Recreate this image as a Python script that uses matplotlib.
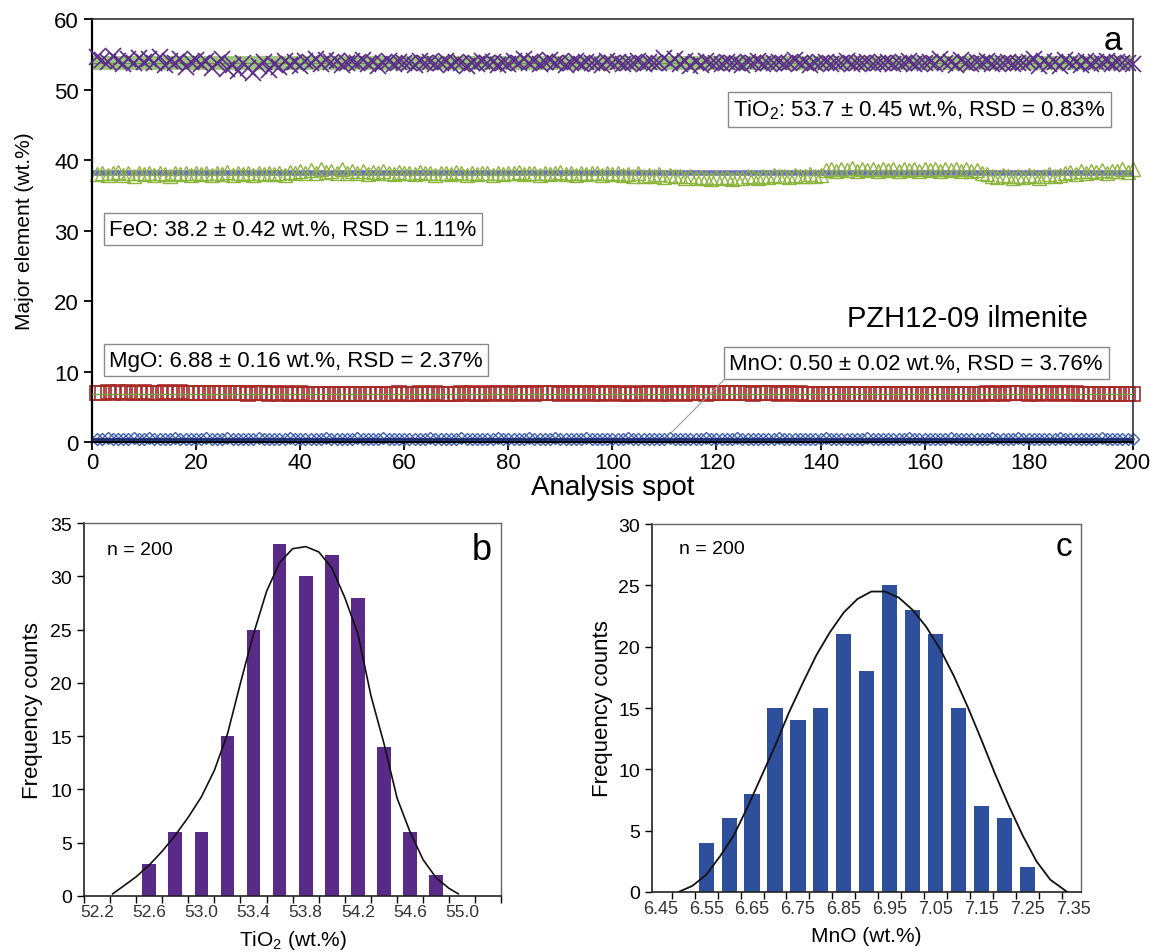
import numpy as np
import matplotlib
matplotlib.use("Agg")
from matplotlib import pyplot as plt

plt.rcParams["font.family"] = ["Liberation Sans", "DejaVu Sans"]
plt.rcParams["mathtext.fontset"] = "custom"
plt.rcParams["mathtext.rm"] = "Liberation Sans"

# ---- panel a: spot-by-spot major elements (wt.%) ----
TIO2 = [
    54.6, 54.2, 53.9, 54.8, 54.1, 53.6, 54.4, 53.8, 54.5, 53.9, 54.3, 53.7, 54.6, 53.5, 54.0, 53.8, 54.4, 53.2, 53.9, 54.2,
    53.6, 54.1, 53.0, 53.8, 54.3, 52.9, 53.5, 52.6, 53.7, 53.1, 52.4, 53.4, 53.9, 52.8, 53.6, 53.2, 54.0, 53.5, 53.9, 53.3,
    54.1, 53.8, 54.4, 53.6, 54.2, 53.9, 54.0, 53.5, 53.8, 54.1, 53.7, 54.2, 53.6, 53.9, 53.4, 53.8, 54.0, 53.6, 53.9, 53.7,
    53.8, 53.5, 54.0, 53.7, 53.9, 53.6, 53.8, 54.1, 53.5, 53.9, 53.7, 53.4, 53.8, 53.6, 54.0, 53.7, 53.9, 53.5, 53.8, 53.6,
    54.0, 53.7, 54.3, 53.8, 54.1, 53.6, 53.9, 54.2, 53.7, 53.9, 53.5, 53.8, 54.0, 53.6, 53.9, 53.7, 53.8, 53.5, 54.0, 53.7,
    53.9, 53.6, 53.8, 53.7, 54.0, 53.6, 53.9, 53.8, 53.7, 54.5, 53.8, 54.3, 53.6, 54.0, 53.3, 53.9, 53.5, 54.1, 53.7, 53.8,
    53.6, 53.9, 53.7, 53.8, 53.5, 53.9, 53.7, 54.0, 53.6, 53.8, 53.7, 53.9, 53.6, 53.8, 54.2, 53.7, 53.9, 53.5, 53.8, 53.7,
    53.9, 53.6, 53.8, 53.7, 54.0, 53.6, 53.8, 53.7, 53.9, 53.6, 53.8, 53.7, 53.9, 53.6, 53.8, 53.7, 54.0, 53.6, 53.8, 53.7,
    53.9, 53.6, 54.3, 53.7, 53.9, 53.5, 54.2, 53.8, 53.6, 53.9, 53.7, 54.0, 53.6, 53.8, 53.7, 53.9, 53.6, 53.8, 53.7, 53.9,
    54.4, 53.3, 54.1, 53.6, 53.9, 53.4, 54.2, 53.7, 53.9, 53.5, 54.1, 53.6, 53.9, 53.7, 54.0, 53.6, 53.9, 53.7, 53.8, 53.6,
]
FEO = [
    38.0, 38.2, 37.9, 38.1, 38.3, 37.9, 38.1, 37.8, 38.2, 38.0, 38.1, 37.9, 38.2, 38.0, 37.8, 38.1, 38.0, 38.2, 37.9, 38.1,
    38.0, 38.2, 37.9, 38.1, 38.0, 38.3, 37.9, 38.1, 38.0, 38.2, 37.9, 38.1, 38.0, 38.2, 38.0, 38.1, 37.9, 38.3, 38.1, 38.4,
    38.2, 38.6, 38.1, 38.7, 38.3, 38.5, 38.2, 38.8, 38.1, 38.4, 38.2, 38.5, 38.0, 38.3, 38.1, 38.4, 38.2, 38.0, 38.3, 38.1,
    38.2, 38.0, 38.3, 38.1, 38.2, 37.9, 38.1, 38.2, 38.0, 38.3, 38.1, 37.9, 38.2, 38.0, 38.1, 38.2, 37.9, 38.1, 38.0, 38.2,
    38.1, 38.3, 38.0, 38.2, 38.1, 37.9, 38.2, 38.0, 38.1, 38.3, 38.0, 38.2, 37.9, 38.1, 38.0, 38.2, 38.1, 37.9, 38.2, 38.0,
    38.1, 37.9, 38.0, 37.8, 38.1, 37.7, 37.9, 37.8, 38.0, 37.6, 37.9, 37.7, 37.8, 37.5, 37.7, 37.4, 37.6, 37.5, 37.3, 37.6,
    37.4, 37.6, 37.3, 37.5, 37.4, 37.7, 37.6, 37.5, 37.8, 37.6, 37.9, 37.7, 37.8, 37.6, 37.9, 37.7, 37.8, 38.0, 37.7, 37.9,
    38.6, 38.8, 38.5, 38.7, 38.6, 38.9, 38.5, 38.7, 38.6, 38.8, 38.5, 38.7, 38.6, 38.8, 38.5, 38.7, 38.6, 38.8, 38.5, 38.7,
    38.6, 38.8, 38.5, 38.7, 38.6, 38.8, 38.5, 38.7, 38.4, 38.6, 38.2, 38.0, 37.8, 37.6, 37.9, 37.7, 37.5, 37.8, 37.6, 37.9,
    37.7, 37.5, 37.8, 38.0, 37.7, 37.9, 38.1, 38.3, 38.0, 38.4, 38.2, 38.5, 38.3, 38.6, 38.2, 38.5, 38.4, 38.7, 38.3, 38.8,
]
MGO = [
    7.02, 6.95, 7.05, 6.98, 7.08, 6.96, 7.04, 7.00, 6.94, 7.06, 6.99, 7.03, 6.97, 7.07, 7.01, 6.96, 7.05, 6.98, 7.02, 6.95,
    6.98, 6.92, 7.00, 6.94, 6.97, 6.90, 6.99, 6.93, 6.96, 6.88, 6.95, 6.91, 6.97, 6.89, 6.94, 6.86, 6.93, 6.88, 6.84, 6.90,
    6.85, 6.81, 6.88, 6.83, 6.79, 6.86, 6.82, 6.78, 6.84, 6.80, 6.87, 6.76, 6.83, 6.79, 6.85, 6.81, 6.88, 6.84, 6.90, 6.86,
    6.89, 6.85, 6.92, 6.87, 6.83, 6.90, 6.86, 6.81, 6.88, 6.84, 6.91, 6.87, 6.93, 6.89, 6.86, 6.92, 6.88, 6.95, 6.90, 6.87,
    6.93, 6.89, 6.96, 6.91, 6.88, 6.94, 6.90, 6.97, 6.92, 6.89, 6.95, 6.91, 6.87, 6.93, 6.90, 6.86, 6.92, 6.88, 6.94, 6.90,
    6.87, 6.93, 6.89, 6.85, 6.91, 6.88, 6.94, 6.90, 6.86, 6.92, 6.89, 6.95, 6.91, 6.88, 6.93, 6.97, 6.92, 6.89, 6.95, 6.91,
    6.94, 6.90, 6.96, 6.92, 6.98, 6.93, 6.89, 6.95, 6.91, 6.97, 6.93, 6.88, 6.94, 6.90, 6.86, 6.92, 6.87, 6.83, 6.89, 6.85,
    6.81, 6.87, 6.83, 6.79, 6.85, 6.81, 6.88, 6.84, 6.80, 6.86, 6.82, 6.78, 6.84, 6.80, 6.86, 6.82, 6.79, 6.85, 6.81, 6.87,
    6.83, 6.79, 6.85, 6.81, 6.77, 6.83, 6.80, 6.86, 6.82, 6.88, 6.84, 6.90, 6.86, 6.92, 6.88, 6.94, 6.90, 6.96, 6.91, 6.87,
    6.93, 6.89, 6.95, 6.91, 6.87, 6.93, 6.90, 6.85, 6.91, 6.87, 6.83, 6.89, 6.85, 6.81, 6.87, 6.84, 6.80, 6.86, 6.82, 6.88,
]
MNO = [
    0.51, 0.49, 0.52, 0.50, 0.48, 0.51, 0.50, 0.53, 0.49, 0.50, 0.52, 0.48, 0.51, 0.49, 0.50, 0.52, 0.47, 0.50, 0.51, 0.49,
    0.50, 0.52, 0.48, 0.51, 0.49, 0.53, 0.50, 0.48, 0.51, 0.50, 0.49, 0.52, 0.50, 0.48, 0.51, 0.49, 0.50, 0.52, 0.49, 0.51,
    0.48, 0.50, 0.51, 0.49, 0.52, 0.50, 0.48, 0.51, 0.49, 0.50, 0.53, 0.49, 0.51, 0.50, 0.48, 0.52, 0.50, 0.49, 0.51, 0.50,
    0.49, 0.51, 0.50, 0.48, 0.52, 0.49, 0.51, 0.50, 0.47, 0.50, 0.52, 0.49, 0.51, 0.50, 0.48, 0.51, 0.49, 0.52, 0.50, 0.49,
    0.51, 0.50, 0.48, 0.52, 0.49, 0.51, 0.50, 0.49, 0.53, 0.50, 0.48, 0.51, 0.49, 0.50, 0.52, 0.48, 0.51, 0.50, 0.49, 0.51,
    0.50, 0.48, 0.52, 0.49, 0.51, 0.50, 0.49, 0.51, 0.48, 0.50, 0.52, 0.49, 0.51, 0.50, 0.48, 0.51, 0.49, 0.53, 0.50, 0.49,
    0.51, 0.50, 0.48, 0.52, 0.49, 0.51, 0.50, 0.48, 0.51, 0.49, 0.50, 0.52, 0.48, 0.51, 0.50, 0.49, 0.51, 0.50, 0.47, 0.50,
    0.52, 0.49, 0.51, 0.50, 0.48, 0.51, 0.49, 0.50, 0.52, 0.48, 0.51, 0.50, 0.49, 0.51, 0.50, 0.48, 0.52, 0.49, 0.51, 0.50,
    0.49, 0.51, 0.48, 0.50, 0.52, 0.49, 0.51, 0.50, 0.48, 0.51, 0.49, 0.50, 0.53, 0.49, 0.51, 0.50, 0.48, 0.52, 0.49, 0.51,
    0.50, 0.49, 0.51, 0.48, 0.50, 0.52, 0.49, 0.51, 0.50, 0.48, 0.51, 0.49, 0.50, 0.52, 0.48, 0.51, 0.50, 0.49, 0.51, 0.50,
]
MEANS = {"TiO2": 53.7, "FeO": 38.2, "MgO": 6.88, "MnO": 0.50}

# ---- panel b: TiO2 histogram ----
TIO2_BINS = [52.6, 52.8, 53.0, 53.2, 53.4, 53.6, 53.8, 54.0, 54.2, 54.4, 54.6, 54.8]
TIO2_COUNTS = [3, 6, 6, 15, 25, 33, 30, 32, 28, 14, 6, 2]
TIO2_CURVE_X = [52.32, 52.4, 52.5, 52.6, 52.7, 52.8, 52.9, 53.0, 53.1, 53.2, 53.3, 53.4, 53.5, 53.6,
                53.7, 53.8, 53.9, 54.0, 54.1, 54.2, 54.3, 54.4, 54.5, 54.6, 54.7, 54.8, 54.9, 54.97]
TIO2_CURVE_Y = [0.2, 0.9, 1.8, 2.9, 4.2, 5.7, 7.4, 9.3, 11.8, 15.2, 20.0, 24.6, 28.6, 31.3,
                32.6, 32.8, 32.3, 30.8, 28.0, 24.6, 18.8, 14.3, 9.2, 6.0, 3.4, 1.7, 0.7, 0.2]
TIO2_LABELS = ["52.2", "52.6", "53.0", "53.4", "53.8", "54.2", "54.6", "55.0"]

# ---- panel c: MnO histogram ----
MNO_BINS = [6.55, 6.60, 6.65, 6.70, 6.75, 6.80, 6.85, 6.90, 6.95, 7.00, 7.05, 7.10, 7.15, 7.20, 7.25]
MNO_COUNTS = [4, 6, 8, 15, 14, 15, 21, 18, 25, 23, 21, 15, 7, 6, 2]
MNO_CURVE_X = [6.49, 6.52, 6.55, 6.58, 6.61, 6.64, 6.67, 6.70, 6.73, 6.76, 6.79, 6.82, 6.85, 6.88, 6.91,
               6.94, 6.97, 7.00, 7.03, 7.06, 7.09, 7.12, 7.15, 7.18, 7.21, 7.24, 7.27, 7.30, 7.337]
MNO_CURVE_Y = [0.0, 0.5, 1.4, 2.9, 4.6, 6.9, 9.4, 11.9, 14.6, 17.0, 19.3, 21.2, 22.8, 23.9, 24.5,
               24.5, 24.0, 23.0, 21.6, 19.8, 17.6, 15.1, 12.4, 9.6, 7.0, 4.6, 2.5, 1.0, 0.0]
MNO_LABELS = ["6.45", "6.55", "6.65", "6.75", "6.85", "6.95", "7.05", "7.15", "7.25", "7.35"]


def style_hist_axes(ax):
    for side in ["top", "right"]:
        ax.spines[side].set_color("#666666")
        ax.spines[side].set_linewidth(1.0)
    for side in ["left", "bottom"]:
        ax.spines[side].set_color("#222222")
        ax.spines[side].set_linewidth(1.2)
    ax.tick_params(axis="y", direction="out", length=5, width=1, labelsize=14, right=False)
    ax.tick_params(axis="x", which="major", length=0, labelsize=12.5, pad=6, labelcolor="#333333")
    ax.tick_params(axis="x", which="minor", direction="out", length=5, width=1, top=False)


def main():
    fig = plt.figure(figsize=(11.5, 9.53), dpi=100)

    # panel a
    ax = fig.add_axes([0.080, 0.535, 0.905, 0.444])
    spots = np.arange(1, len(TIO2) + 1)
    ax.plot([0, 200], [MEANS["TiO2"]] * 2, color="#9cc77c", lw=10, solid_capstyle="butt", zorder=1)
    ax.plot([0, 200], [MEANS["TiO2"]] * 2, color="#6f8f5a", lw=0.8, zorder=1)
    ax.plot(spots, TIO2, ls="none", marker="x", ms=11, mew=1.2, color="#5b2a8c", zorder=3, clip_on=False)

    ax.plot([0, 200], [MEANS["FeO"]] * 2, color="#6c6cc4", lw=4, zorder=1)
    ax.plot(spots, FEO, ls="none", marker="^", ms=10, mew=1.0, mfc="none", mec="#8bb53c", zorder=2, clip_on=False)

    ax.plot(spots, MGO, ls="none", marker="s", ms=10, mew=1.2, mfc="none", mec="#a82a26", zorder=2, clip_on=False)
    ax.plot([0, 200], [MEANS["MgO"]] * 2, color="#6fa24a", lw=1.0, zorder=3)

    ax.plot(spots, MNO, ls="none", marker="D", ms=6.5, mew=1.0, mfc="none", mec="#3d5eb0", zorder=2, clip_on=False)
    ax.plot([0, 200], [MEANS["MnO"]] * 2, color="#1c2a6e", lw=2, zorder=3)

    ax.set_xlim(0, 200)
    ax.set_ylim(0, 60)
    ax.set_xticks(np.arange(0, 201, 20))
    ax.set_yticks(np.arange(0, 61, 10))
    ax.tick_params(direction="out", length=6, width=1.3, labelsize=16)
    ax.tick_params(axis="x", pad=1)
    for side in ["left", "bottom"]:
        ax.spines[side].set_linewidth(1.6)
    for side in ["top", "right"]:
        ax.spines[side].set_color("#333333")
        ax.spines[side].set_linewidth(1.2)
    ax.set_xlabel("Analysis spot", fontsize=20, labelpad=1)
    ax.set_ylabel("Major element (wt.%)", fontsize=15, labelpad=14)

    box = dict(boxstyle="square,pad=0.25", fc="white", ec="#8a8a8a", lw=1.0)
    ax.text(123.2, 47.2, "TiO$_\\mathregular{2}$: 53.7 ± 0.45 wt.%, RSD = 0.83%",
            fontsize=16, ha="left", va="center", bbox=box, zorder=5)
    ax.text(3.3, 30.2, "FeO: 38.2 ± 0.42 wt.%, RSD = 1.11%",
            fontsize=16, ha="left", va="center", bbox=box, zorder=5)
    ax.text(3.3, 11.6, "MgO: 6.88 ± 0.16 wt.%, RSD = 2.37%",
            fontsize=16, ha="left", va="center", bbox=box, zorder=5)
    ax.text(122.5, 11.2, "MnO: 0.50 ± 0.02 wt.%, RSD = 3.76%",
            fontsize=16, ha="left", va="center", bbox=box, zorder=5)
    ax.plot([111.4, 121.4], [1.4, 8.8], color="#9a9a9a", lw=0.8, zorder=4)
    ax.text(191.4, 17.6, "PZH12-09 ilmenite", fontsize=21, ha="right", va="center")
    ax.text(197.9, 57.0, "a", fontsize=24, ha="right", va="center")

    # panel b
    axb = fig.add_axes([0.073, 0.0588, 0.363, 0.3912])
    axb.bar(TIO2_BINS, TIO2_COUNTS, width=0.104, color="#5a2a88", zorder=2)
    axb.plot(TIO2_CURVE_X, TIO2_CURVE_Y, color="#111111", lw=1.2, zorder=3)
    axb.set_xlim(52.1, 55.3)
    axb.set_ylim(0, 35)
    axb.set_yticks(np.arange(0, 36, 5))
    axb.set_xticks([float(s) for s in TIO2_LABELS])
    axb.set_xticklabels(TIO2_LABELS)
    axb.set_xticks(np.arange(52.1, 55.31, 0.2), minor=True)
    style_hist_axes(axb)
    axb.set_ylabel("Frequency counts", fontsize=16, labelpad=5)
    axb.set_xlabel("TiO$_\\mathregular{2}$ (wt.%)", fontsize=15, labelpad=6)
    axb.text(0.055, 0.93, "n = 200", transform=axb.transAxes, fontsize=14, ha="left", va="center")
    axb.text(0.978, 0.93, "b", transform=axb.transAxes, fontsize=26, ha="right", va="center")

    # panel c
    axc = fig.add_axes([0.567, 0.063, 0.373, 0.386])
    axc.bar(MNO_BINS, MNO_COUNTS, width=0.033, color="#2d4f9c", zorder=2)
    axc.plot(MNO_CURVE_X, MNO_CURVE_Y, color="#111111", lw=1.3, zorder=3)
    axc.set_xlim(6.432, 7.367)
    axc.set_ylim(0, 30)
    axc.set_yticks(np.arange(0, 31, 5))
    axc.set_xticks([float(s) for s in MNO_LABELS])
    axc.set_xticklabels(MNO_LABELS)
    axc.set_xticks(np.arange(6.475, 7.37, 0.05), minor=True)
    style_hist_axes(axc)
    axc.tick_params(axis="x", which="major", labelsize=13)
    axc.set_ylabel("Frequency counts", fontsize=16, labelpad=4)
    axc.set_xlabel("MnO (wt.%)", fontsize=15, labelpad=6)
    axc.text(0.063, 0.935, "n = 200", transform=axc.transAxes, fontsize=14, ha="left", va="center")
    axc.text(0.979, 0.94, "c", transform=axc.transAxes, fontsize=24, ha="right", va="center")

    fig.savefig("out.png", dpi=100)


if __name__ == "__main__":
    main()
